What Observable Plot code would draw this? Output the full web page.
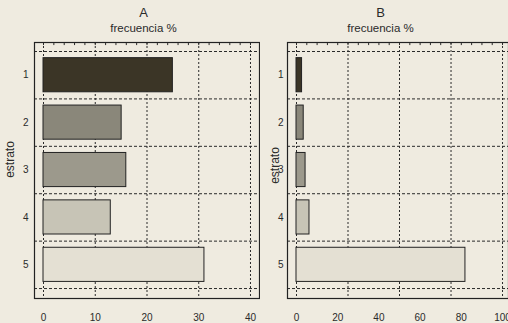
<!DOCTYPE html>
<html>
<head>
<meta charset="utf-8">
<script src="https://cdn.jsdelivr.net/npm/d3@7"></script>
<script src="https://cdn.jsdelivr.net/npm/@observablehq/plot@0.6"></script>
<style>
  html, body { margin: 0; padding: 0; background: #efebe0; }
  #wrap { display: flex; width: 508px; height: 323px; overflow: hidden; }
  svg { display: block; }
</style>
</head>
<body>
<div id="wrap"></div>
<script>
const estratos = [1, 2, 3, 4, 5];
const frecA = [25, 15.1, 16, 13, 31.1];
const frecB = [2.7, 3.5, 4.4, 6.3, 82];
const fills = ["#3b3526", "#8a877a", "#9c998c", "#c7c4b6", "#e4e0d3"];
const ticksA = [0, 10, 20, 30, 40];
const gridA = [0, 10, 20, 30, 40];
const minorA = d3.range(0, 42, 2);
const ticksB = [0, 20, 40, 60, 80, 100];
const gridB = [0, 25, 50, 75, 100];
const minorB = d3.range(0, 103, 5);
const bounds = [0.5, 1.5, 2.5, 3.5, 4.5, 5.5];
const titles = ["A", "B"];
const subtitle = "frecuencia %";
const yLabel = "estrato";

const yDomain = [0.31, 5.71];
const font = "'Liberation Sans', Arial, Helvetica, sans-serif";
const ink = "#2a2a2a";

function panel({title, values, xDomain, width, marginLeft, marginRight, ticks, grid, minor, tickPad, titleDx, labelDx, labelDy}) {
  const data = estratos.map((e, i) => ({e, v: values[i], c: fills[i]}));
  return Plot.plot({
    width, height: 323,
    marginLeft, marginRight, marginTop: 42, marginBottom: 25,
    style: {background: "transparent", fontFamily: font, color: ink},
    x: {domain: xDomain},
    y: {domain: yDomain, reverse: true},
    marks: [
      Plot.ruleY(bounds, {stroke: ink, strokeWidth: 1, strokeDasharray: "3,2"}),
      Plot.ruleX(grid, {stroke: ink, strokeWidth: 1, strokeDasharray: "2,2"}),
      Plot.ruleX(minor, {y1: yDomain[0], y2: yDomain[0] + 0.065, stroke: ink, strokeWidth: 1}),
      Plot.rectX(data, {
        x1: 0, x2: "v",
        y1: d => d.e - 0.36, y2: d => d.e + 0.36,
        fill: d => d.c, stroke: "#222", strokeWidth: 1
      }),
      Plot.frame({stroke: "#222", strokeWidth: 1.2}),
      Plot.axisX({ticks, tickSize: 0, tickPadding: 15, fontSize: 10, label: null, tickFormat: d => String(d)}),
      Plot.axisY({ticks: estratos, tickSize: 0, tickPadding: tickPad, fontSize: 10, label: null, tickFormat: d => String(d)}),
      Plot.text([title], {frameAnchor: "top", dy: -30, dx: titleDx, fontSize: 13, lineAnchor: "middle"}),
      Plot.text([subtitle], {frameAnchor: "top", dy: -14, dx: titleDx, fontSize: 11.5, lineAnchor: "middle"}),
      Plot.text([yLabel], {frameAnchor: "left", rotate: -90, dx: labelDx, dy: labelDy, fontSize: 12, textAnchor: "middle", lineAnchor: "middle"})
    ]
  });
}

const wrap = document.getElementById("wrap");
wrap.appendChild(panel({
  title: titles[0], values: frecA, xDomain: [-1.74, 41.74],
  width: 260, marginLeft: 34, marginRight: 1,
  ticks: ticksA, grid: gridA, minor: minorA, tickPad: 6,
  titleDx: -3.5, labelDx: -24, labelDy: -11
}));
wrap.appendChild(panel({
  title: titles[1], values: frecB, xDomain: [-4.37, 102.9],
  width: 248, marginLeft: 27, marginRight: 0,
  ticks: ticksB, grid: gridB, minor: minorB, tickPad: 4,
  titleDx: -17.5, labelDx: -12, labelDy: -5
}));
</script>
</body>
</html>
